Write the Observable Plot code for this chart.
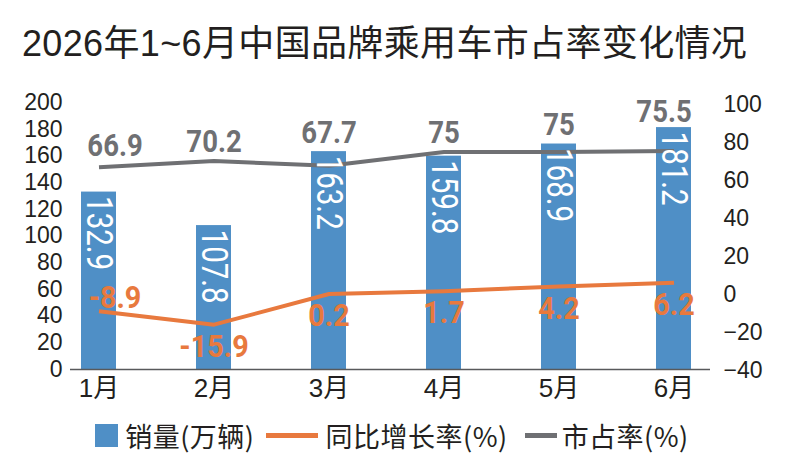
<!DOCTYPE html>
<html><head><meta charset="utf-8">
<script src="https://cdn.jsdelivr.net/npm/d3@7"></script>
<script src="https://cdn.jsdelivr.net/npm/@observablehq/plot@0.6"></script>
<style>
body{margin:0;background:#fff;width:786px;height:466px;overflow:hidden;font-family:"Liberation Sans","Noto Sans CJK SC",sans-serif;color:#231f20}
#title{padding:24px 0 0 22px;height:60px;font-size:36px;line-height:40px;letter-spacing:0.35px;white-space:nowrap;font-family:"Liberation Sans","Noto Sans CJK SC",sans-serif}
#chart svg{display:block}
#legend{display:flex;justify-content:center;align-items:center;height:58px;font-size:27px;letter-spacing:0.5px;font-family:"Noto Sans CJK SC",sans-serif;white-space:nowrap;padding-right:2px}
#legend .sq{width:23px;height:23px;background:#4f8fc6;margin-right:7px}
#legend .ln{height:5px}
#legend .item{display:flex;align-items:center}
</style></head>
<body>
<div id="title">2026年1~6月中国品牌乘用车市占率变化情况</div>
<div id="chart"></div>
<div id="legend"></div>
<script>
const months = ["1月","2月","3月","4月","5月","6月"];
const sales = [132.9, 107.8, 163.2, 159.8, 168.9, 181.2];      // 销量(万辆)
const growth = [-8.9, -15.9, 0.2, 1.7, 4.2, 6.2];               // 同比增长率(%)
const share = [66.9, 70.2, 67.7, 75, 75, 75.5];                 // 市占率(%)
const leftTicks = [0, 20, 40, 60, 80, 100, 120, 140, 160, 180, 200];
const rightTicks = [-40, -20, 0, 20, 40, 60, 80, 100];
const seriesNames = ["销量(万辆)", "同比增长率(%)", "市占率(%)"];

const leftDomain = [0, 200];
const rightDomain = [-39.5, 101];
const toLeft = v => leftDomain[0] + (v - rightDomain[0]) * (leftDomain[1] - leftDomain[0]) / (rightDomain[1] - rightDomain[0]);
const fromLeft = u => rightDomain[0] + (u - leftDomain[0]) * (rightDomain[1] - rightDomain[0]) / (leftDomain[1] - leftDomain[0]);
const fmtSigned = v => v < 0 ? "\u2212" + (-v) : String(v);

const BLUE = "#4f8fc6", ORANGE = "#e8793e", GREY = "#6f7073", INK = "#231f20";
const NUMFONT = "Roboto,'DejaVu Sans Condensed',sans-serif";

const data = months.map((m, i) => ({month: m, sales: sales[i], growth: growth[i], share: share[i], i}));
const first = data.filter(d => d.i === 0);
const last = data.filter(d => d.i === data.length - 1);
const middle = data.filter(d => d.i > 0 && d.i < data.length - 1);
const rest = data.filter(d => d.i > 0);

const shareY = d => Math.max(toLeft(d.share), d.sales);
const shareText = (arr, dx, dy) => Plot.text(arr, {x: "month", y: shareY, text: d => String(d.share), dy, dx,
  fill: GREY, fontWeight: "bold", fontSize: 32, fontFamily: NUMFONT});

const chart = Plot.plot({
  width: 786, height: 322,
  marginLeft: 70, marginRight: 76, marginTop: 18, marginBottom: 37,
  style: {fontFamily: "'Liberation Sans','Noto Sans CJK SC',sans-serif", fontSize: "23px", color: INK, background: "transparent", overflow: "visible"},
  x: {domain: months, paddingInner: 0.6957, paddingOuter: 0.1304, align: 0.367, label: null},
  y: {domain: leftDomain, label: null},
  marks: [
    Plot.barY(data, {x: "month", y: "sales", fill: BLUE}),
    Plot.ruleY([0], {stroke: "#58595b", strokeWidth: 1.5}),
    Plot.axisY(leftTicks, {anchor: "left", tickSize: 0, tickPadding: 8, fontSize: 23, label: null}),
    Plot.axisY(rightTicks.map(toLeft), {anchor: "right", tickSize: 0, tickPadding: 13, fontSize: 23, label: null,
      tickFormat: u => fmtSigned(Math.round(fromLeft(u)))}),
    Plot.axisX({tickSize: 0, tickPadding: 9, fontSize: 26, label: null}),
    Plot.line(data, {x: "month", y: d => toLeft(d.share), stroke: GREY, strokeWidth: 4, strokeLinecap: "butt"}),
    Plot.line(data, {x: "month", y: d => toLeft(d.growth), stroke: ORANGE, strokeWidth: 4, strokeLinecap: "butt"}),
    Plot.text(data, {x: "month", y: "sales", text: d => String(d.sales), rotate: 90, textAnchor: "start", dy: 4,
      fill: "#ffffff", fontSize: 36, fontFamily: NUMFONT}),
    shareText(first, 16, -22),
    shareText(middle, 0, -19),
    shareText(last, -10, -16),
    Plot.text(first, {x: "month", y: d => toLeft(d.growth), text: d => String(d.growth), dy: -14, dx: 16,
      fill: ORANGE, fontWeight: "bold", fontSize: 32, fontFamily: NUMFONT}),
    Plot.text(rest, {x: "month", y: d => toLeft(d.growth), text: d => String(d.growth), dy: 22,
      fill: ORANGE, fontWeight: "bold", fontSize: 32, fontFamily: NUMFONT})
  ]
});
document.getElementById("chart").appendChild(chart);

// narrow the value labels (condensed look of the original)
const squeeze = {"#ffffff": 0.82, [GREY]: 0.86, [ORANGE]: 0.9};
chart.querySelectorAll('g[aria-label="text"]').forEach(g => {
  const f = squeeze[g.getAttribute("fill")] ?? 0.9;
  g.querySelectorAll("text").forEach(t => {
    const len = t.getComputedTextLength();
    t.setAttribute("textLength", (len * f).toFixed(1));
    t.setAttribute("lengthAdjust", "spacingAndGlyphs");
  });
});

const legend = document.getElementById("legend");
const swatches = [
  {cls: "sq", style: ""},
  {cls: "ln", style: `width:52px;background:${ORANGE};margin:0 8px 0 11px`},
  {cls: "ln", style: `width:32px;background:${GREY};margin:0 5px 0 17px`}
];
seriesNames.forEach((name, i) => {
  const item = document.createElement("div");
  item.className = "item";
  const sw = document.createElement("div");
  sw.className = swatches[i].cls;
  if (swatches[i].style) sw.setAttribute("style", swatches[i].style);
  const t = document.createElement("span");
  t.textContent = name;
  item.appendChild(sw); item.appendChild(t);
  legend.appendChild(item);
});
</script>
</body></html>
